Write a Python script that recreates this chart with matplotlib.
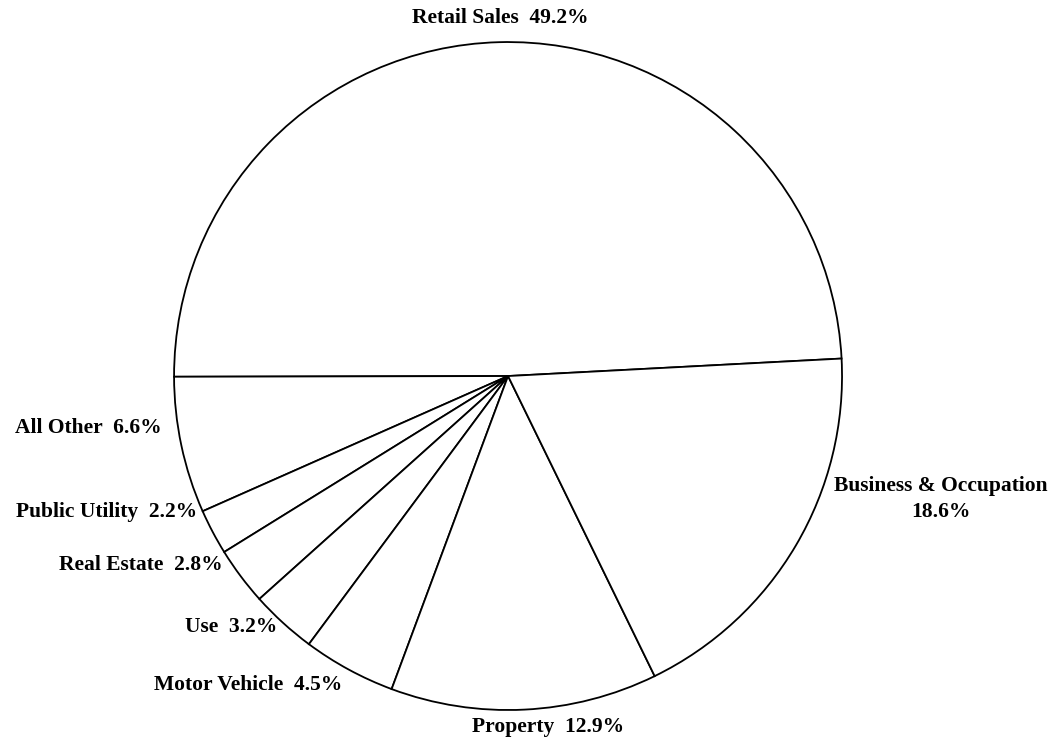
import matplotlib.pyplot as plt

# revenue share by tax source (percent), counterclockwise from the right
labels = ['Retail Sales', 'All Other', 'Public Utility', 'Real Estate',
          'Use', 'Motor Vehicle', 'Property', 'Business & Occupation']
shares = [49.2, 6.6, 2.2, 2.8, 3.2, 4.5, 12.9, 18.6]

# label anchors in pie radius units, with alignment
label_pos = [(-0.024, 1.072, 'center'), (-1.036, -0.156, 'right'),
             (-0.931, -0.407, 'right'), (-0.856, -0.566, 'right'),
             (-0.692, -0.751, 'right'), (-0.497, -0.925, 'right'),
             (0.120, -1.051, 'center'), (1.295, -0.368, 'center')]

plt.rcParams['font.family'] = ['Liberation Serif', 'DejaVu Serif']

fig = plt.figure(figsize=(10.58, 7.43), dpi=100)
ax = fig.add_axes([0.1645, 0.0444, 0.6314, 0.899])

ax.pie(shares, startangle=3.0, counterclock=True, radius=1.0,
       colors=['white'] * len(shares),
       wedgeprops={'edgecolor': 'black', 'linewidth': 1.3})
ax.set_xlim(-1, 1)
ax.set_ylim(-1, 1)
ax.set_aspect('equal')
ax.axis('off')

for name, val, (x, y, ha) in zip(labels, shares, label_pos):
    if name.startswith('Business'):
        txt = f'{name}\n{val}%'
    else:
        txt = f'{name}  {val}%'
    ax.text(x, y, txt, ha=ha, va='center', multialignment='center',
            fontsize=15.5, fontweight='bold', color='black', linespacing=1.45)

fig.savefig('out.png', dpi=100, facecolor='white')
